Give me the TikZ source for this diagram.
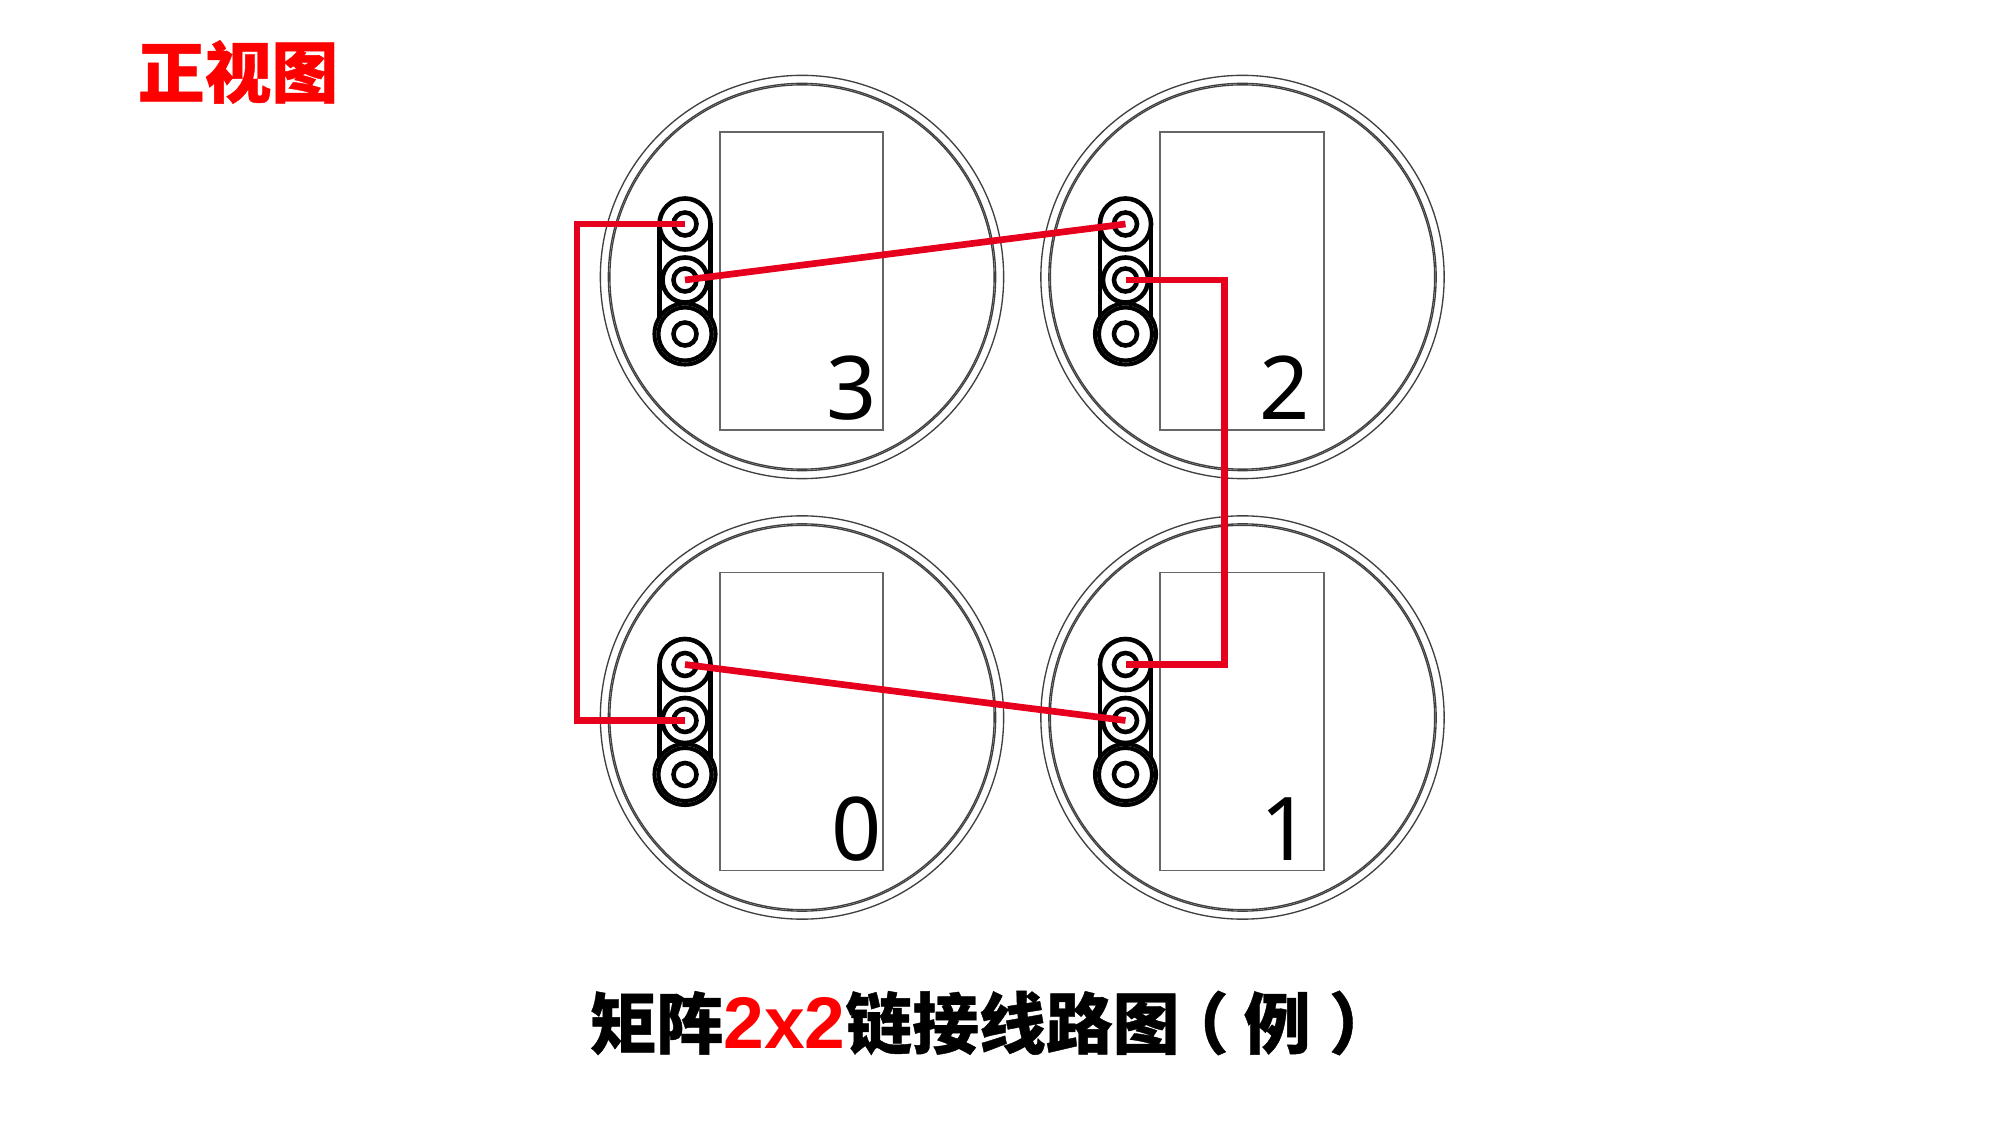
\documentclass[tikz,border=0pt]{standalone}
\usepackage{fontspec}
\usetikzlibrary{positioning}
\newfontfamily\cjk[BoldFeatures={FakeBold=0.6}]{Noto Sans CJK SC}
\newfontfamily\lat{Liberation Sans}
\setmainfont{Noto Sans}
\definecolor{wirered}{RGB}{230,0,30}
\begin{document}
\begin{tikzpicture}[x=0.01cm,y=-0.01cm]
\tikzset{
    shell/.style={circle, draw=black!75, line width=0.38pt, inner sep=0, minimum size=#1*0.02cm},
    pin/.style={circle, draw=black, line width=1.3pt, inner sep=0, fill=white, minimum size=#1*0.02cm},
    pad/.style={draw=black!60, line width=0.5pt},
    wire/.style={draw=wirered, line width=1.9pt},
    number/.style={anchor=base, inner sep=0, font=\fontsize{25}{25}\selectfont}
}
\useasboundingbox (0,0) rectangle (2000,1125);
%
\node[text=red, font=\cjk\bfseries\fontsize{19}{19}\selectfont, inner sep=0] (title) at (238,72) {正视图};
\node[anchor=west, inner sep=0, font=\cjk\bfseries\fontsize{19}{19}\selectfont] (caption) at (589,1023)
    {矩阵{\lat\fontsize{20.8}{20.8}\selectfont\textcolor{red}{2x2}}链接线路图\hspace{-5pt}（\hspace{4.3pt}例\hspace{5.2pt}）};

% the four sockets
\foreach \num/\cx/\cy/\tx in {3/802/277/852, 2/1242.5/277/1285, 0/802/717.5/857, 1/1242.5/717.5/1286}{
  \node[shell=201.5] (outer\num) at (\cx,\cy) {};
  \node[shell=193.5] (inner\num) at (\cx,\cy) {};
  \node[shell=192] (rim\num) at (\cx,\cy) {};
  \draw[pad] (\cx-82.3,\cy-145) rectangle (\cx+81.3,\cy+153);
  \node[number] (label\num) at (\tx,\cy+143) {\num};
  % strip of three pins
  \draw[draw=black, line width=1.3pt] (\cx-142.5,\cy-53) -- (\cx-142.5,\cy+57)
     (\cx-91.5,\cy-53) -- (\cx-91.5,\cy+57);
  \node[pin=25.5] (top\num) at (\cx-117,\cy-53) {};
  \node[pin=22.5] (mid\num) at (\cx-117,\cy+3) {};
  \node[pin=30.5, line width=1.15pt] (low\num) at (\cx-117,\cy+57) {};
  \node[pin=26.5, line width=1.15pt] (lowb\num) at (\cx-117,\cy+57) {};
  \node[pin=11.5] (topc\num) at (top\num) {};
  \node[pin=11.5] (midc\num) at (mid\num) {};
  \node[pin=11.5] (lowc\num) at (low\num) {};
}

\coordinate (bendL) at (577,500);
\coordinate (bendR) at (1224.5,500);
\draw[wire] (top3.center) -| (bendL) |- (mid0.center);
\draw[wire] (mid3.center) -- (top2.center);
\draw[wire] (mid2.center) -| (bendR) |- (top1.center);
\draw[wire] (top0.center) -- (mid1.center);
\end{tikzpicture}
\end{document}
